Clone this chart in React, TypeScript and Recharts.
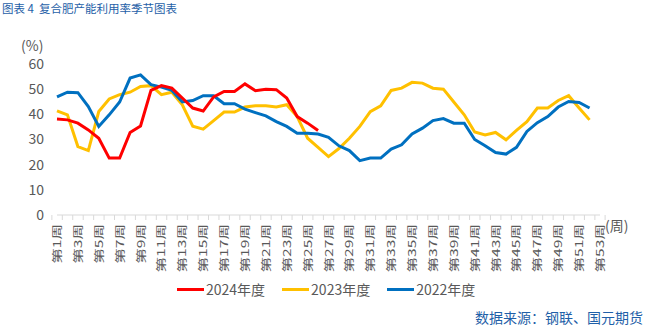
import React from 'react';
import { LineChart, Line, XAxis, YAxis } from 'recharts';

// week labels 第1周 .. 第53周
const weeks: string[] = Array.from({ length: 53 }, (_, i) => `第${i + 1}周`);

const yTicks: number[] = [0, 10, 20, 30, 40, 50, 60];

const y2024: number[] = [
  38.1, 37.8, 36.5, 33.8, 30.5, 22.6, 22.6, 32.8, 35.4, 49.5,
  51.4, 50.4, 46.5, 42.5, 41.3, 46.9, 49.1, 49.1, 52.1, 49.4,
  50.0, 49.8, 46.5, 39.1, 36.5, 33.6,
];

const y2023: number[] = [
  41.4, 39.8, 27.2, 25.6, 41.1, 46.1, 47.8, 48.8, 51.1, 51.4,
  47.8, 48.8, 43.8, 35.3, 34.1, 37.5, 40.9, 40.9, 42.9, 43.4,
  43.4, 42.9, 43.8, 39.1, 30.5, 26.9, 23.2, 26.4, 30.5, 35.2,
  41.1, 43.4, 49.5, 50.4, 52.7, 52.4, 50.4, 50.0, 44.9, 39.8,
  33.0, 31.8, 32.8, 29.9, 33.6, 37.1, 42.5, 42.5, 45.5, 47.4,
  42.5, 37.8,
];

const y2022: number[] = [
  46.9, 48.8, 48.6, 43.1, 35.2, 39.8, 44.9, 54.4, 55.7, 51.8,
  50.8, 49.5, 44.9, 45.5, 47.4, 47.4, 44.2, 44.2, 42.1, 40.7,
  39.4, 37.1, 35.2, 32.5, 32.5, 32.2, 30.9, 27.5, 25.6, 21.6,
  22.6, 22.6, 26.2, 27.9, 32.2, 34.5, 37.5, 38.3, 36.5, 36.5,
  30.0, 27.5, 24.8, 24.2, 26.9, 33.2, 36.7, 39.1, 42.9, 45.1,
  44.7, 42.5,
];

const data = weeks.map((w, i) => ({
  week: w,
  y2024: y2024[i] ?? null,
  y2023: y2023[i] ?? null,
  y2022: y2022[i] ?? null,
}));

const FONT = '"Noto Sans CJK SC", "Noto Sans", sans-serif';
const GREY = '#595959';
const RED = '#FF0000';
const YELLOW = '#FFC000';
const BLUE = '#0070C0';

const legendItems = [
  { name: '2024年度', color: RED },
  { name: '2023年度', color: YELLOW },
  { name: '2022年度', color: BLUE },
];

const W = 648;
const H = 326;
const LEFT = 57;
const RIGHT = 600;
const BAND = (RIGHT - LEFT) / weeks.length;

const WeekTick = (props: any) => {
  const { x, y, payload } = props;
  const idx = payload.index;
  return (
    <g>
      <line x1={x - BAND / 2} x2={x - BAND / 2} y1={y} y2={y + 5} stroke="#d9d9d9" />
      {idx === weeks.length - 1 && (
        <line x1={x + BAND / 2} x2={x + BAND / 2} y1={y} y2={y + 5} stroke="#d9d9d9" />
      )}
      {idx % 2 === 0 && (
        <text
          transform={`translate(${x + 4},${y + 9}) rotate(-90) scale(1.3,0.9)`}
          textAnchor="end"
          fontSize={12}
          fill={GREY}
          fontFamily={FONT}
        >
          {payload.value}
        </text>
      )}
    </g>
  );
};

export default function App() {
  return (
    <div
      style={{
        position: 'absolute',
        left: 0,
        top: 0,
        width: W,
        height: H,
        background: '#fff',
        fontFamily: FONT,
      }}
    >
      <div
        style={{
          position: 'absolute',
          left: 2,
          top: 0,
          fontSize: 11.5,
          color: '#1F5FA8',
          whiteSpace: 'pre',
          lineHeight: '17px',
        }}
      >
        {'图表 4  复合肥产能利用率季节图表'}
      </div>

      <LineChart
        width={W}
        height={H}
        data={data}
        margin={{ top: 64, right: W - RIGHT, left: 0, bottom: 51 }}
      >
        <XAxis
          dataKey="week"
          interval={0}
          height={60}
          tickSize={0}
          tickMargin={0}
          tickLine={false}
          axisLine={{ stroke: '#d9d9d9' }}
          tick={<WeekTick />}
        />
        <YAxis
          width={LEFT}
          domain={[0, 60]}
          ticks={yTicks}
          axisLine={false}
          tickLine={false}
          tickSize={0}
          tickMargin={13}
          tick={{ fill: GREY, fontSize: 14, fontFamily: FONT }}
        />
        <Line
          type="linear"
          dataKey="y2023"
          stroke={YELLOW}
          strokeWidth={3}
          dot={false}
          isAnimationActive={false}
        />
        <Line
          type="linear"
          dataKey="y2022"
          stroke={BLUE}
          strokeWidth={3}
          dot={false}
          isAnimationActive={false}
        />
        <Line
          type="linear"
          dataKey="y2024"
          stroke={RED}
          strokeWidth={3}
          dot={false}
          isAnimationActive={false}
        />
      </LineChart>

      <div style={{ position: 'absolute', left: 21, top: 35, fontSize: 14, color: GREY }}>(%)</div>
      <div style={{ position: 'absolute', left: 605, top: 215, fontSize: 14, color: GREY }}>(周)</div>

      <div
        style={{
          position: 'absolute',
          left: 177,
          top: 279,
          display: 'flex',
          fontSize: 14,
          color: GREY,
          lineHeight: '20px',
        }}
      >
        {legendItems.map((it) => (
          <div key={it.name} style={{ display: 'flex', alignItems: 'center', marginRight: 17 }}>
            <span
              style={{
                display: 'inline-block',
                width: 27,
                height: 3,
                background: it.color,
                marginRight: 2,
              }}
            />
            <span>{it.name}</span>
          </div>
        ))}
      </div>

      <div
        style={{
          position: 'absolute',
          right: 5,
          top: 309,
          fontSize: 14,
          color: '#1F5FA8',
          lineHeight: '17px',
        }}
      >
        数据来源：钢联、国元期货
      </div>
    </div>
  );
}
